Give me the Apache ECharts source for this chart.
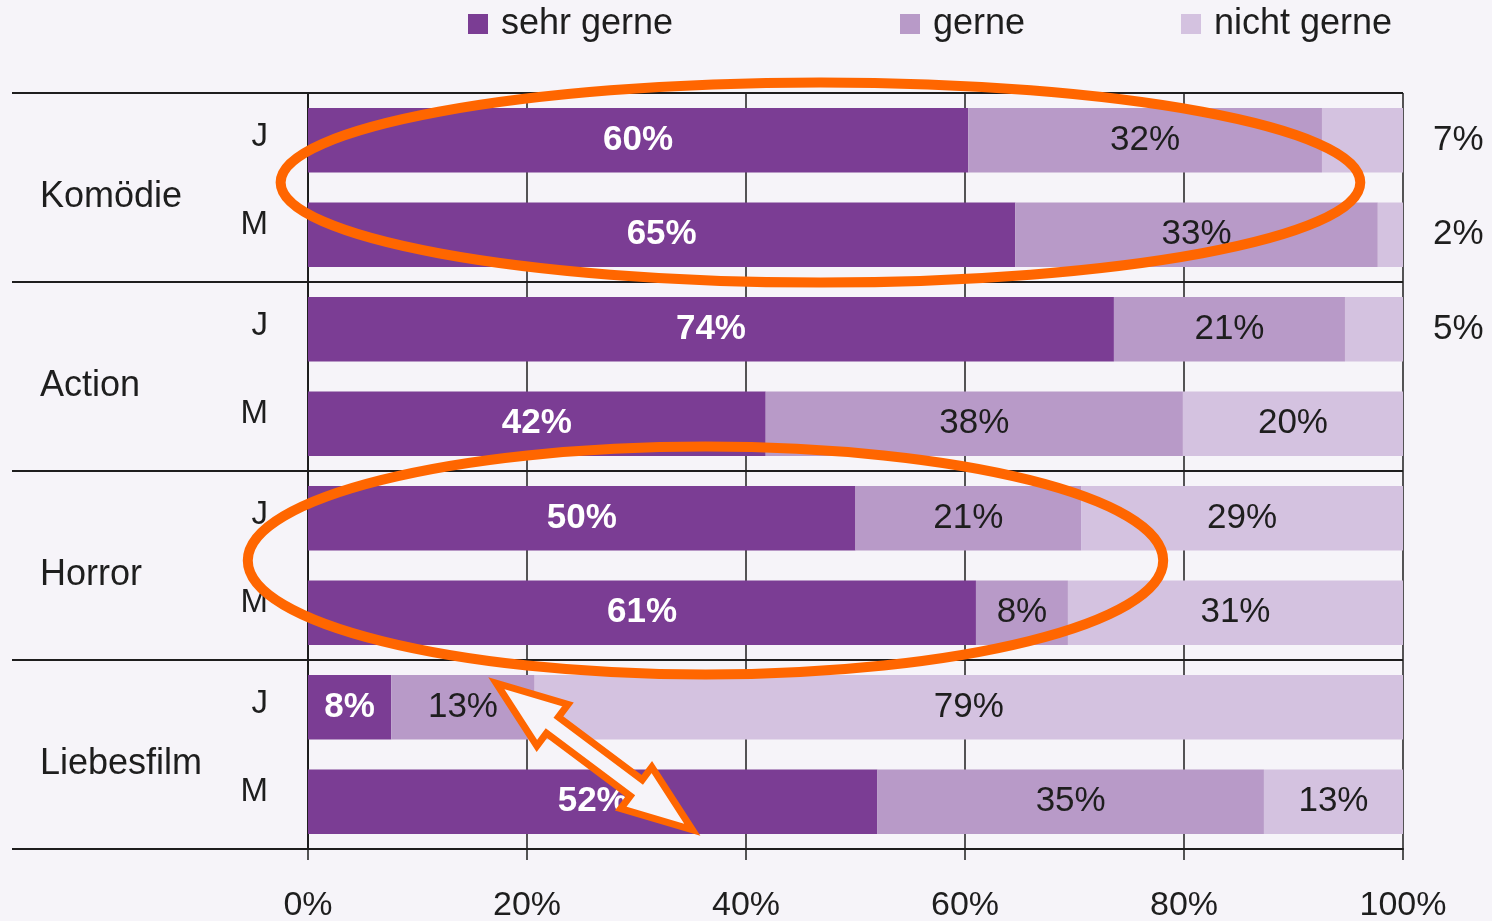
<!DOCTYPE html>
<html>
<head>
<meta charset="utf-8">
<script src="https://cdn.jsdelivr.net/npm/echarts@6/dist/echarts.min.js"></script>
<style>
html, body { margin: 0; padding: 0; background: #f6f4f9; }
#chart { width: 1492px; height: 921px; }
</style>
</head>
<body>
<div id="chart"></div>
<script>
// Zeilen (J = Jungen, M = Mädchen), gruppiert nach Genre
var groups = ['Komödie', 'Action', 'Horror', 'Liebesfilm'];
var rows = ['J', 'M', 'J', 'M', 'J', 'M', 'J', 'M'];

var sehrGerne = [60.3, 64.6, 73.6, 41.8, 50.0, 61.0, 7.6, 52.0];
var gerne = [32.3, 33.1, 21.1, 38.1, 20.6, 8.4, 13.1, 35.3];
var nichtGerne = [7.4, 2.3, 5.3, 20.1, 29.4, 30.6, 79.3, 12.7];

var colors = ['#7b3d94', '#b89ac8', '#d4c2e0'];
var dark = '#1e1e1e';
var font = 'Liberation Sans, Arial, sans-serif';

var chart = echarts.init(document.getElementById('chart'));

let pct = p => Math.round(p.value) + '%';

let legendAt = (name, left) => ({
	data: [name],
	left: left,
	top: 1,
	icon: 'rect',
	itemWidth: 20,
	itemHeight: 20,
	textStyle: { fontSize: 36, color: dark, fontFamily: font, padding: [0, 0, 0, 8] }
});

// kleine Werte der letzten Reihe stehen rechts neben dem Balken
let outsideData = arr => arr.map(function(v){
	if (v < 10) {
		return { value: v, label: { position: 'right', distance: 30 } };
	}
	return v;
});

var option = {
	backgroundColor: '#f6f4f9',
	animation: false,
	color: colors,
	legend: [
		legendAt('sehr gerne', 463),
		legendAt('gerne', 895),
		legendAt('nicht gerne', 1176)
	],
	grid: { left: 308, right: 89, top: 93, bottom: 72, outerBoundsMode: 'none' },
	xAxis: {
		type: 'value',
		min: 0,
		max: 100,
		interval: 20,
		axisLine: { show: true, lineStyle: { color: dark, width: 2 } },
		axisTick: { show: true, length: 11, lineStyle: { color: dark, width: 1.5 } },
		splitLine: { show: true, lineStyle: { color: dark, width: 1.5 } },
		axisLabel: {
			formatter: '{value}%',
			fontSize: 34,
			color: dark,
			fontFamily: font,
			margin: 40
		}
	},
	yAxis: [
		{
			type: 'category',
			data: rows,
			inverse: true,
			axisLine: { show: true, lineStyle: { color: dark, width: 2 } },
			axisTick: { show: false },
			axisLabel: {
				margin: 40,
				formatter: v => (v === 'J' ? '{j|J}' : '{m|M}'),
				rich: {
					j: { fontSize: 33, color: dark, fontFamily: font, padding: [0, 0, 6, 0] },
					m: { fontSize: 33, color: dark, fontFamily: font, padding: [0, 0, 20, 0] }
				}
			}
		},
		{
			type: 'category',
			data: groups,
			inverse: true,
			position: 'left',
			axisLine: { show: false },
			axisTick: {
				show: true,
				length: 296,
				interval: 0,
				lineStyle: { color: dark, width: 2 }
			},
			splitLine: { show: true, interval: 0, lineStyle: { color: dark, width: 2 } },
			axisLabel: {
				align: 'left',
				margin: 268,
				formatter: v => '{g|' + v + '}',
				rich: {
					g: { fontSize: 36, color: dark, fontFamily: font, padding: [20, 0, 0, 0] }
				}
			}
		}
	],
	series: [
		{
			name: 'sehr gerne',
			type: 'bar',
			stack: 'total',
			yAxisIndex: 0,
			barCategoryGap: '32%',
			data: sehrGerne,
			label: {
				show: true,
				formatter: pct,
				color: '#ffffff',
				fontWeight: 'bold',
				fontSize: 35,
				fontFamily: font
			}
		},
		{
			name: 'gerne',
			type: 'bar',
			stack: 'total',
			yAxisIndex: 0,
			data: gerne,
			label: { show: true, formatter: pct, color: dark, fontSize: 35, fontFamily: font }
		},
		{
			name: 'nicht gerne',
			type: 'bar',
			stack: 'total',
			yAxisIndex: 0,
			data: outsideData(nichtGerne),
			label: { show: true, formatter: pct, color: dark, fontSize: 35, fontFamily: font }
		}
	]
};
chart.setOption(option);

// orange Markierungen (Ellipsen + Doppelpfeil)
let px = v => chart.convertToPixel({ xAxisIndex: 0 }, v);
let py = i => chart.convertToPixel({ yAxisIndex: 0 }, i);

let ellipse = (xc, xr, r1, r2, dy, ry) => {
	var cx = px(xc);
	return {
		type: 'ellipse',
		z: 100,
		shape: { cx: cx, cy: (py(r1) + py(r2)) / 2 + dy, rx: px(xr) - cx, ry: ry },
		style: { fill: 'none', stroke: '#ff6600', lineWidth: 10 }
	};
};

let arrow = (p1, p2) => {
	var dx = p2[0] - p1[0], dy = p2[1] - p1[1];
	var len = Math.sqrt(dx * dx + dy * dy);
	var d = [dx / len, dy / len], n = [-d[1], d[0]];
	var h = 70, hw = 26, sw = 10;
	let at = (p, a, b) => [p[0] + d[0] * a + n[0] * b, p[1] + d[1] * a + n[1] * b];
	return {
		type: 'polygon',
		z: 100,
		shape: {
			points: [
				p1, at(p1, h, hw), at(p1, h, sw), at(p2, -h, sw), at(p2, -h, hw),
				p2, at(p2, -h, -hw), at(p2, -h, -sw), at(p1, h, -sw), at(p1, h, -hw)
			]
		},
		style: { fill: '#f6f4f9', stroke: '#ff6600', lineWidth: 7, lineJoin: 'miter' }
	};
};

chart.setOption({
	graphic: [
		ellipse(46.8, 96.1, 0, 1, -5, 100),
		ellipse(36.3, 78.1, 4, 5, -5, 114),
		arrow([px(17.2), py(6) - 24], [px(35.1), py(7) + 28])
	]
});
</script>
</body>
</html>
